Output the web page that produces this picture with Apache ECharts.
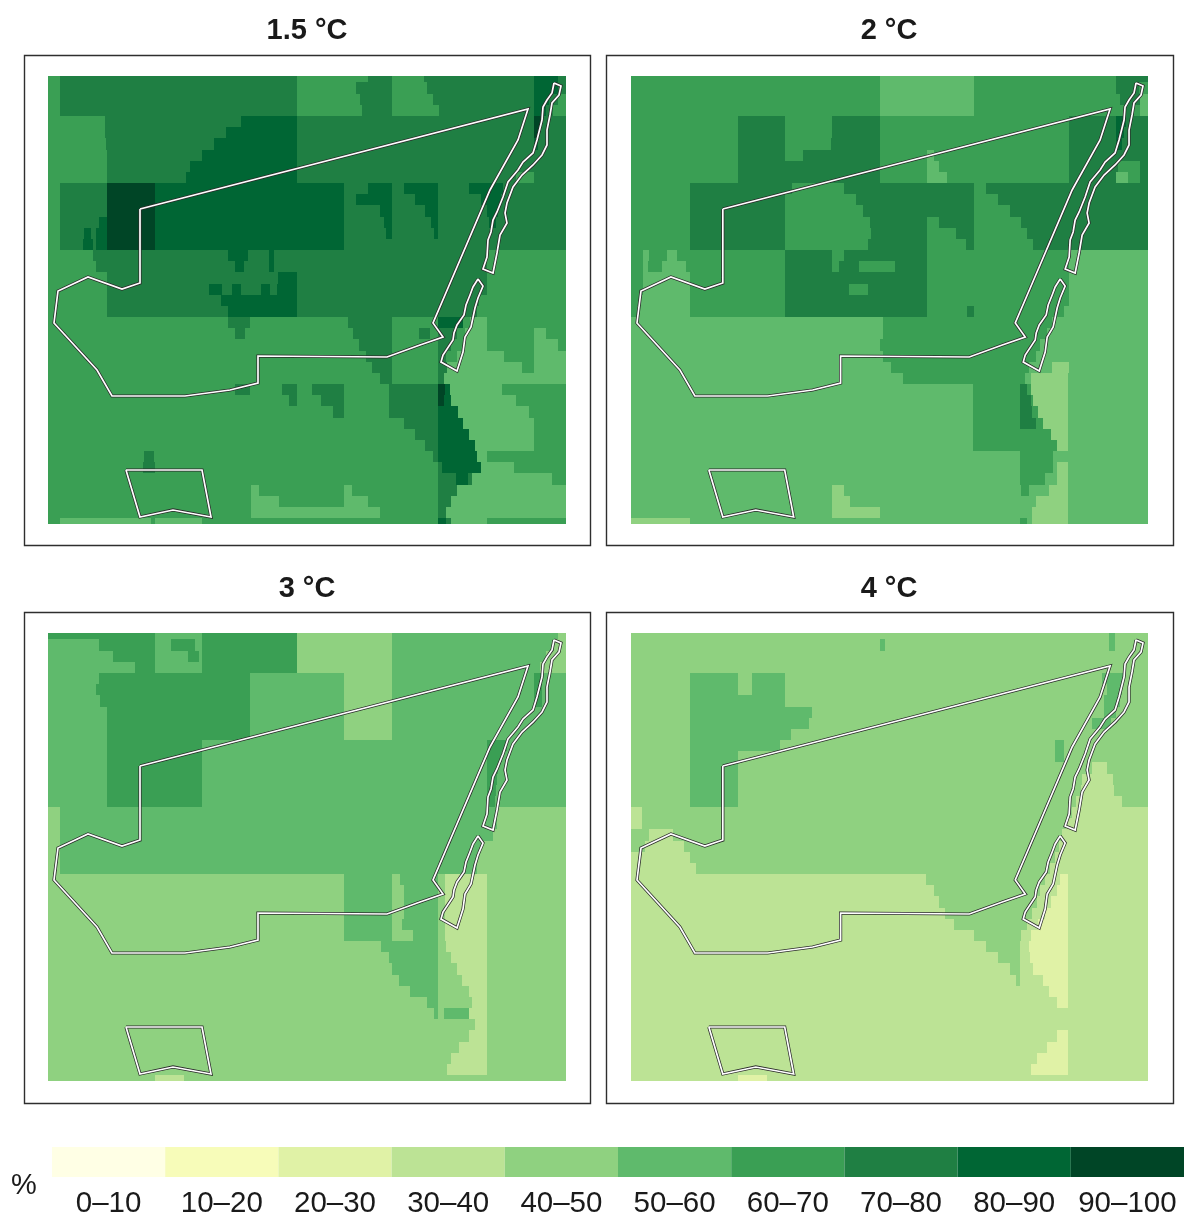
<!DOCTYPE html>
<html><head><meta charset="utf-8">
<style>html,body{margin:0;padding:0;background:#fff}#c{width:1184px;height:1216px}</style>
<script src="https://cdn.jsdelivr.net/npm/echarts@6/dist/echarts.min.js"></script></head>
<body><div id="c"></div>
<script>
const legendLabels=['0–10','10–20','20–30','30–40','40–50','50–60','60–70','70–80','80–90','90–100'];
const classColors=['#ffffe5','#f7fcb9','#e0f2a6','#bce395','#8fd180','#5fba6c','#3a9f54','#1f7f43','#006634','#004526'];
const panelTitles=['1.5 °C','2 °C','3 °C','4 °C'];
// each row: class@startColumn, running to the next entry
const warming15=[
'6@0 7@1 6@21 7@27 6@29 7@31.7 8@41 7@43',
'6@0 7@1 6@21 7@26 6@29 7@32 8@41 7@43',
'6@0 7@1 6@21 7@26.3 6@29 7@32.5 8@41 7@42.3 6@43',
'6@0 7@1 6@21 7@26.5 6@29 7@33 8@41 7@42 6@42.6',
'6@0 7@4.8 8@16.3 7@21 9@41 7@41.6',
'6@0 7@4.8 8@15 7@21 9@41 7@41.4',
'6@0 7@4.9 8@14 7@21 8@41 7@41.3',
'6@0 7@5 8@13 7@21',
'6@0 7@5 8@12 7@21',
'6@0 7@5 8@11.6 7@21 6@39.5 7@41',
'6@0 7@1 9@5 8@9 7@25 8@27 7@29 8@30 7@32.9 8@35.5 7@38.4',
'6@0 7@1 9@5 8@9 7@25 8@26 7@29 8@31 7@32.9 8@36.5 7@38.2',
'6@0 7@1 9@5 8@9 7@25 8@28 7@29 8@31.8 7@32.9 8@37 7@38',
'6@0 7@1 8@4.3 9@5 8@9 7@25 8@28.3 7@29 8@32.3 7@32.9 8@37.2 7@37.8',
'6@0 7@1 8@3 7@3.6 8@4 9@5 8@9 7@25 8@28.5 7@29 8@32.6 7@32.9',
'6@0 7@1 8@2.9 7@3.8 8@4 9@5 8@9 7@25',
'6@0 7@3.8 8@15.2 7@16.9 8@18.6 7@19.1 6@37',
'6@0 7@4 8@15.8 7@16.5 8@18.6 7@19.1 6@37',
'6@0 7@5 8@19.4 7@21 6@37',
'6@0 7@5 8@13.6 7@14.7 8@15.5 7@16.3 8@18 7@18.7 8@19.3 7@21 6@37',
'6@0 7@5 8@14.6 7@21 6@36.4',
'6@0 7@5 8@15.2 7@21 6@36.2',
'6@0 7@15.2 6@17 7@25.3 6@29 8@32.9 6@35 5@35.6 6@37',
'6@0 7@15.8 6@16.6 7@25.7 6@29 7@31.3 6@32.2 7@32.9 6@34.5 5@35.2 6@37 5@41 6@42',
'6@0 7@26.2 6@29 7@32.9 6@34 5@35 6@37 5@41 6@43',
'6@0 7@26.8 6@29 7@32.9 6@33.6 5@34.5 6@38.5 5@41',
'6@0 7@27.3 6@29 7@32.9 5@33.7 6@40 5@41',
'6@0 7@28 6@29 7@32.9 5@33.4',
'6@0 7@15.8 6@17 7@19.7 6@21 7@22.3 6@25 7@28.8 9@32.9 8@33.5 5@33.9 6@38.3',
'6@0 7@20.3 6@21 7@23 6@25 7@28.8 9@32.9 8@33.4 5@34 6@39.5',
'6@0 7@24 6@25 7@28.8 8@32.9 5@34.6 6@40.6',
'6@0 7@30 8@32.9 5@35 6@41',
'6@0 7@31 8@32.9 5@35.5 6@41',
'6@0 7@31.8 8@32.9 5@36 6@41',
'6@0 7@8.1 6@8.9 7@32.5 8@32.9 5@36.2 6@37',
'6@0 7@8 6@9 7@32.9 8@33.2 5@36.5 6@39.3',
'6@0 7@32.9 8@34.4 7@35.4 5@35.8 6@42.5',
'6@0 5@17.1 6@17.8 5@25 6@25.6 7@32.9 5@34.5',
'6@0 5@17.1 6@19.5 5@25 6@27 7@32.9 5@34',
'6@0 5@17.1 6@28 7@32.9 5@33.6',
'6@0 5@1 6@8.7 5@9 6@13 8@32.9 7@33.6 5@34 6@37'
];
const warming20=[
'6@0 5@21 6@29 7@41',
'6@0 5@21 6@29 7@41 6@42.9',
'6@0 5@21 6@29 7@41.3 5@43',
'6@0 5@21 6@29 7@41.8 6@42.5 5@43',
'6@0 7@9 6@13 7@17 6@21 7@37 8@41 7@41.8',
'6@0 7@9 6@13 7@17 6@21 7@37 8@41 7@41.7',
'6@0 7@9 6@13 7@16.9 6@21 7@37 8@41 7@41.5',
'6@0 7@9 6@13 7@14.5 6@21 5@25 6@25.6 7@37',
'6@0 7@9 6@21 5@25 6@26 7@37 6@41.2 7@43',
'6@0 7@9 6@21 5@25 6@26.7 7@37 5@41 6@42 7@43',
'6@0 7@5 6@13.6 7@18 6@29 7@30',
'6@0 7@5 6@13 7@19 6@29 7@31',
'6@0 7@5 6@13 7@19.6 6@29 7@32',
'6@0 7@5 6@13 7@20.2 6@25 7@26 6@29 7@33',
'6@0 7@5 6@13 7@20.3 6@25 7@27.5 6@29 7@33.5',
'6@0 7@5 6@13 7@20 6@25 7@28.3 6@29 7@34',
'6@0 5@1 6@1.5 5@3 6@3.9 7@13 6@17 7@18 6@25 5@37',
'6@0 5@1 6@1.4 5@2.6 6@4.6 7@13 6@17 7@17.6 6@19.3 7@22.3 6@25 5@37',
'6@0 5@1 6@5 7@13 6@25 5@37',
'6@0 5@1 6@5 7@13 6@18.4 7@20 6@25 5@37',
'6@0 5@0.7 6@5 7@13 6@25 5@37',
'6@0 5@0.5 6@5 7@13 6@25 7@28.4 6@29 5@36.6',
'5@0 6@21.3 5@35.6',
'5@0 6@21.3 5@35.2',
'5@0 6@21 5@34.6',
'5@0 6@21.3 5@34.2',
'5@0 6@22 5@33.6 4@35.6 5@37',
'5@0 6@23 5@33.3 4@33.8 5@36.9',
'5@0 6@28.9 7@32.9 6@33.5 4@33.8 5@36.9',
'5@0 6@28.9 7@32.9 6@33.8 4@34 5@36.9',
'5@0 6@28.9 7@32.9 6@33.9 4@34.4 5@36.9',
'5@0 6@28.9 7@32.9 6@34.2 4@34.8 5@36.9',
'5@0 6@28.9 4@35.5 5@36.9',
'5@0 6@28.9 4@36 5@36.9',
'5@0 6@32.9 5@35.7',
'5@0 6@32.9 5@35.7 4@36 5@36.9',
'5@0 6@32.9 5@35 4@36 5@36.9',
'5@0 4@17 5@18 6@33 5@33.6 4@35.3 5@36.9',
'5@0 4@17 5@18.5 4@34.2 5@36.9',
'5@0 4@17 5@21 4@33.9 5@36.9',
'4@0 5@5 6@32.9 5@33.5 4@33.9 5@36.9'
];
const warming30=[
'6@0 5@9 6@13 4@21 5@29 4@43',
'5@0 6@4.3 5@9 6@10.4 5@12.4 6@13 4@21 5@29 4@42.7',
'5@0 6@5.5 5@9 6@11.8 5@12.7 6@13 4@21 5@29 4@42',
'5@0 6@7.3 5@9 6@13 4@21 5@29 4@41.5',
'5@0 6@4.3 5@17 4@25 5@29 6@41 5@41.7',
'5@0 6@4 5@17 4@25 5@29 6@41 5@41.7',
'5@0 6@4.4 5@17 4@25 5@29 6@41 5@41.7',
'5@0 6@5 5@17 4@25 5@29',
'5@0 6@5 5@17 4@25 5@29',
'5@0 6@5 5@17 4@25 5@29',
'5@0 6@5 5@13 6@37 5@38.7',
'5@0 6@5 5@13 6@37 5@38.3',
'5@0 6@5 5@13 6@37 5@38',
'5@0 6@5 5@13 6@37 5@37.9',
'5@0 6@5 5@13 6@37 5@37.8',
'5@0 6@5 5@13 6@37.2 5@37.7',
'4@0 5@1 4@37.9',
'4@0 5@1 4@37.9',
'4@0 5@1 4@37.5',
'4@0 5@1 4@36.5',
'4@0 5@1 4@36.2',
'4@0 5@1 4@36.2',
'4@0 5@25 4@29 5@29.7 4@32.9 3@33.5 4@37',
'4@0 5@25 4@29 5@30 4@32.9 3@33.5 4@37',
'4@0 5@25 4@29 5@30 4@32.9 3@33.5 4@37',
'4@0 5@25 4@29 5@30 4@32.9 3@33.5 4@37',
'4@0 5@25 4@29 5@29.9 4@32.9 3@33.5 4@37',
'4@0 5@25 4@29 5@30.8 4@32.9 3@33.5 4@37',
'4@0 5@28.1 4@32.9 3@33.6 4@37',
'4@0 5@28.8 4@32.9 3@34 4@37',
'4@0 5@29 4@32.9 3@34.5 4@37',
'4@0 5@29.6 4@32.9 3@34.9 4@37',
'4@0 5@30.5 4@32.9 3@35.5 4@37',
'4@0 5@32 4@32.9 3@35.8 4@37',
'4@0 5@32.6 4@32.9 5@33.4 3@35.5 4@37',
'4@0 3@36 4@37',
'4@0 3@35.5 4@37',
'4@0 3@34.7 4@37',
'4@0 3@34 4@37',
'4@0 3@33.7 4@37',
'4@0 3@9 4@11.5'
];
const warming40=[
'4@0 5@40.4 4@40.9',
'4@0 5@21 4@21.5 5@40.4 4@40.9',
'4@0',
'4@0',
'4@0 5@5 4@9 5@10.2 4@13 5@39.8 4@41.7',
'4@0 5@5 4@9 5@10.2 4@13 5@40.2 4@41.5',
'4@0 5@5 4@13 5@40 4@41.3',
'4@0 5@5 4@15.3 5@40 4@41',
'4@0 5@5 4@15 5@39 4@40.6',
'4@0 5@5 4@13.5',
'4@0 5@5 4@12.6 5@35.8 4@36.6',
'4@0 5@5 4@9 5@35.8 4@36.6',
'4@0 5@5 4@9 3@39 4@40.2',
'4@0 5@5 4@9 3@38.1 4@40.7',
'4@0 5@5 4@9 3@38 4@40.8',
'4@0 5@5 4@9 3@37.6 4@41.5',
'3@0 4@0.9 3@37.3',
'3@0 4@0.9 3@36.8',
'4@0 3@1.5 4@3.5 3@36.4',
'4@0 3@1.2 4@4.5 3@36.2',
'3@0 4@5 3@35.8',
'3@0 4@5.5 3@35.4',
'3@0 4@24.9 3@35 2@36.3 3@36.9',
'3@0 4@25.6 3@34.6 2@36 3@36.9',
'3@0 4@26 3@34.3 2@35.5 3@36.9',
'3@0 4@26.5 3@33.9 2@35 3@36.9',
'3@0 4@27.3 3@33.5 2@34.4 3@36.9',
'3@0 4@29 3@33 2@33.8 3@36.9',
'3@0 4@30 3@32.9 2@33.6 3@36.9',
'3@0 4@31 3@32.9 2@33.7 3@36.9',
'3@0 4@32 3@32.9 2@34 3@36.9',
'3@0 4@32.5 3@32.9 2@34.8 3@36.9',
'3@0 2@35.3 3@36.9',
'3@0 2@36 3@36.9',
'3@0',
'3@0',
'3@0 2@36 3@36.9',
'3@0 2@35.2 3@36.9',
'3@0 2@34.3 3@36.9',
'3@0 2@33.8 3@36.9',
'3@0 2@9 3@11.5'
];
// region outlines in map units
const outlineMain=[[92,133],[480,33],[470,64],[442,114],[397,219],[385,247],[395,261],[372,269],[339,281],[210,280],[210,307],[182,314],[137,320],[64,320],[49,294],[6,247],[10,215],[40,201],[74,213],[92,207]];
const outlineSouth=[[78,394],[154,394],[163,441],[125,434],[92,441]];
const outlineCoastNorth=[[506,7],[513,10],[511,19],[504,27],[502,39],[499,54],[499,69],[494,79],[485,89],[474,99],[465,111],[459,127],[457,137],[459,147],[452,159],[449,177],[445,197],[435,193],[439,181],[440,164],[443,156],[445,144],[449,136],[455,121],[460,106],[470,94],[475,86],[485,77],[489,64],[494,44],[495,31],[499,24],[504,17]];
const outlineCoastSouth=[[430,203],[435,210],[430,222],[427,232],[423,251],[417,261],[415,276],[409,295],[393,286],[395,279],[405,264],[406,257],[409,249],[416,239],[418,229],[422,219],[425,211]];

const panels=[warming15,warming20,warming30,warming40];
const outlines=[outlineMain,outlineSouth,outlineCoastNorth,outlineCoastSouth];
const MAP_W=518,MAP_H=448,CW=11.85,RH=11.17,FIRST=40;
const rowsOf=rows=>{const out=[];rows.forEach((s,r)=>{
  const parts=s.split(' ').map(p=>p.split('@').map(Number));
  parts.forEach((p,i)=>{
    const x0=i===0?0:p[1]*CW+0.15;
    const x1=i+1<parts.length?parts[i+1][1]*CW+0.15:MAP_W;
    out.push([x0,x1,FIRST+(r-4)*RH,FIRST+(r-3)*RH,p[0]]);
  });
});return out;};
const lefts=[48,631,48,631],tops=[76,76,633,633],frameX=[24,606,24,606],frameY=[55,55,612,612];
const titleX=[307,889,307,889],titleY=[31,31,589,589];
const grids=[],xAxes=[],yAxes=[],series=[],graphics=[],titles=[];
panels.forEach((rows,i)=>{
  grids.push({left:lefts[i],top:tops[i],width:i%2?517:518,height:MAP_H,show:false});
  xAxes.push({type:'value',gridIndex:i,min:0,max:MAP_W,show:false});
  yAxes.push({type:'value',gridIndex:i,min:0,max:MAP_H,inverse:true,show:false});
  series.push({type:'custom',xAxisIndex:i,yAxisIndex:i,clip:true,silent:true,animation:false,
    data:rowsOf(rows),encode:{x:[0,1],y:[2,3]},
    renderItem:(p,api)=>{
      const a=api.coord([api.value(0),api.value(2)]),b=api.coord([api.value(1),api.value(3)]);
      const x=Math.round(a[0]),y=Math.round(a[1]);
      return {type:'rect',shape:{x,y,width:Math.round(b[0])-x,height:Math.round(b[1])-y},
        style:{fill:classColors[api.value(4)]}};
    }});
  outlines.forEach(o=>{
    const d=o.concat([o[0]]);
    [['#2b2b2b',3.2],['#ffffff',1.7]].forEach((st,k)=>series.push({type:'line',xAxisIndex:i,yAxisIndex:i,data:d,
      showSymbol:false,silent:true,animation:false,clip:false,z:3+k,
      lineStyle:{color:st[0],width:st[1],join:'miter'}}));
  });
  graphics.push({type:'rect',silent:true,z:1,
    shape:{x:frameX[i]+0.5,y:frameY[i]+0.5,width:i%2?567:566,height:i<2?490:491},style:{fill:'none',stroke:'#2e2e2e',lineWidth:1.4}});
  titles.push({text:panelTitles[i],left:titleX[i],top:titleY[i],padding:0,textAlign:'center',textVerticalAlign:'middle',
    textStyle:{fontFamily:'Liberation Sans',fontWeight:'bold',fontSize:29,color:'#1a1a1a'}});
});
titles.push({text:'%',left:24,top:1186,padding:0,textAlign:'center',textVerticalAlign:'middle',
  textStyle:{fontFamily:'Liberation Sans',fontWeight:'normal',fontSize:29,color:'#1a1a1a'}});
grids.push({left:52,top:1147,width:1132,height:30,show:false,outerBoundsMode:'none'});
xAxes.push({type:'category',gridIndex:4,data:legendLabels,axisLine:{show:false},axisTick:{show:false},
  axisLabel:{interval:0,margin:12,fontFamily:'Liberation Sans',fontSize:29.5,color:'#1a1a1a',hideOverlap:false}});
yAxes.push({type:'value',gridIndex:4,min:0,max:1,show:false});
series.push({type:'bar',xAxisIndex:4,yAxisIndex:4,barWidth:'100%',silent:true,animation:false,
  data:classColors.map(c=>({value:1,itemStyle:{color:c}}))});
const chart=echarts.init(document.getElementById('c'),null,{renderer:'canvas',width:1184,height:1216});
chart.setOption({animation:false,backgroundColor:'#fff',title:titles,grid:grids,xAxis:xAxes,yAxis:yAxes,series,graphic:graphics});
</script></body></html>
